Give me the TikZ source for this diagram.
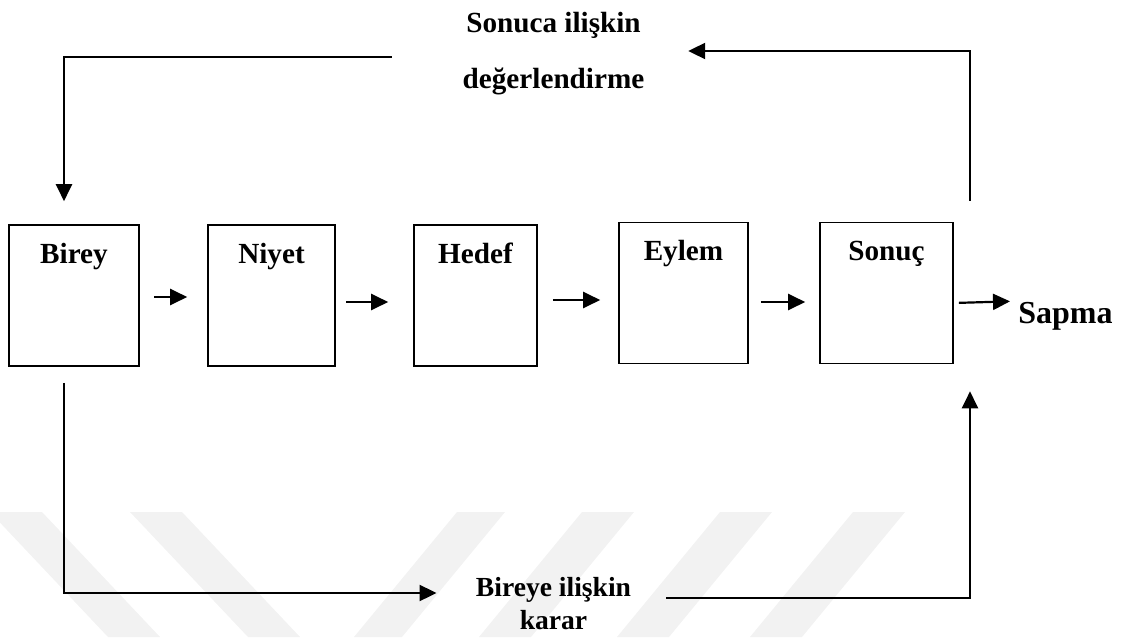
\documentclass[tikz,border=0pt]{standalone}
\usepackage{fontspec}
\setmainfont{Liberation Serif}
\usetikzlibrary{arrows.meta}

\begin{document}
\begin{tikzpicture}[x=0.5pt,y=-0.5pt,>={Triangle[length=8.5pt,width=8pt]},
kutu/.style={draw,line width=0.8pt,minimum width=#1,minimum height=70.5pt,inner sep=0pt},
yazi/.style={font=\bfseries\fontsize{14.6}{17.5}\selectfont,inner sep=0pt},
ok/.style={->,line width=1.1pt}]
\useasboundingbox (0,0) rectangle (1124,637);
% silik seritler
\fill[black!5]
(-10,512)--(42,512)--(160,637)--(108,637)--cycle
(130,512)--(182,512)--(300,637)--(248,637)--cycle
(457,512)--(505,512)--(402,637)--(354,637)--cycle
(582,512)--(634,512)--(531,637)--(479,637)--cycle
(720,512)--(772,512)--(669,637)--(617,637)--cycle
(853,512)--(905,512)--(802,637)--(750,637)--cycle;
% kutular
\node[kutu=65pt] (birey) at (74,295.5) {};
\node[kutu=63.5pt] (niyet) at (271.5,295.5) {};
\node[kutu=61.5pt] (hedef) at (475.5,295.5) {};
\node[kutu=64.5pt] (eylem) at (683.5,293) {};
\node[kutu=66.5pt] (sonuc) at (886.5,293) {};
\node[yazi,anchor=base] (birey-a) at ([yshift=-19.5pt]birey.north) {Birey};
\node[yazi,anchor=base] (niyet-a) at ([yshift=-19.5pt]niyet.north) {Niyet};
\node[yazi,anchor=base] (hedef-a) at ([yshift=-19.5pt]hedef.north) {Hedef};
\node[yazi,anchor=base] (eylem-a) at ([yshift=-19.5pt]eylem.north) {Eylem};
\node[yazi,anchor=base] (sonuc-a) at ([yshift=-19.5pt]sonuc.north) {Sonuç};
\node[yazi,font=\bfseries\fontsize{16}{19}\selectfont,anchor=base west] (sapma) at (1018,323) {Sapma};
\node[yazi,align=center] (sonuca) at (553.5,53.2) {Sonuca ilişkin\\[10.5pt]değerlendirme};
\node[yazi,font=\bfseries\fontsize{13.8}{16.5}\selectfont,align=center] (karar) at (553.5,604) {Bireye ilişkin\\karar};
% oklar
\draw[ok,shorten <=7.25pt,shorten >=10pt]([yshift=-0.75pt]birey.east)--([yshift=-0.75pt]niyet.west);
\draw[ok,shorten <=5.3pt,shorten >=12.5pt]([yshift=-3.25pt]niyet.east)--([yshift=-3.25pt]hedef.west);
\draw[ok,shorten <=7.5pt,shorten >=9pt]([yshift=-2.25pt]hedef.east)--([yshift=-3.5pt]eylem.west);
\draw[ok,shorten <=6pt,shorten >=7pt]([yshift=-4.5pt]eylem.east)--([yshift=-4.5pt]sonuc.west);
\draw[ok,shorten <=2.5pt,shorten >=4pt]([yshift=-5pt]sonuc.east)--([yshift=7.35pt]sapma.west);
\draw[ok,shorten <=10.5pt,shorten >=21.75pt]([xshift=41.75pt]sonuc.north)|-([yshift=1.1pt]sonuca.east);
\draw[ok,shorten <=35.25pt,shorten >=11.5pt]([yshift=-1.9pt]sonuca.west)-|([xshift=-5pt]birey.north);
\draw[ok,shorten <=8pt,shorten >=19.5pt]([xshift=-5pt]birey.south)|-([yshift=5.5pt]karar.west);
\draw[ok,shorten <=17.5pt,shorten >=13.5pt]([yshift=3pt]karar.east)-|([xshift=41.75pt]sonuc.south);
\end{tikzpicture}
\end{document}
